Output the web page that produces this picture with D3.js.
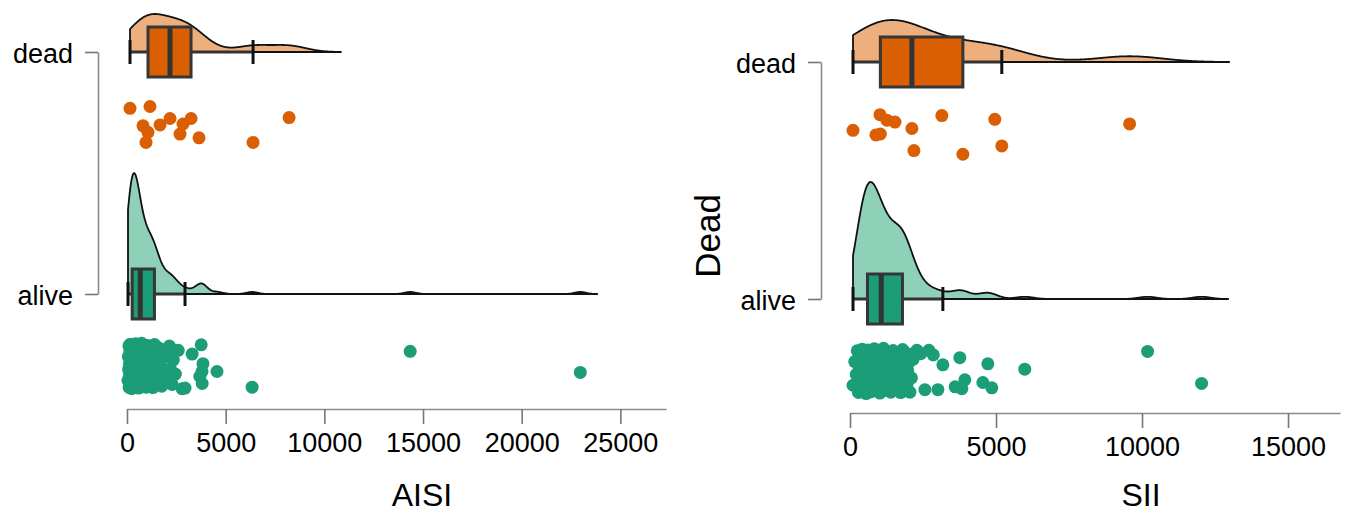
<!DOCTYPE html>
<html><head><meta charset="utf-8">
<script src="https://cdn.jsdelivr.net/npm/d3@7"></script>
<style>body{margin:0;background:#fff} svg{display:block} text{font-family:"Liberation Sans",Arial,sans-serif;fill:#000}</style>
</head><body><svg id="c" width="1347" height="515"></svg>
<script>
// ---------------- DATA ----------------
const groups = ["dead", "alive"];
const aisiTicks = [0, 5000, 10000, 15000, 20000, 25000];
const siiTicks = [0, 5000, 10000, 15000];

const aisiDead = [152, 1166, 811, 1065, 963, 1673, 2180, 2839, 3245, 2687, 3650, 6388, 8213];
const aisiDeadJitter = [-0.68, -0.76, 0.08, 0.36, 0.8, 0.04, -0.24, 0, -0.24, 0.44, 0.6, 0.8, -0.28];

const aisiAlive = [
  51, 68, 83, 97, 108, 121, 129, 141, 148, 157, 166, 171, 179, 187, 190, 199, 204, 207, 214, 217, 223, 227, 229, 235, 237, 242, 245, 246, 249, 251, 252, 253,
  261, 270, 287, 296, 312, 320, 337, 346, 362, 371, 386, 394, 410, 418, 433, 442, 458, 467, 481, 490, 507, 516, 533, 542, 558, 569, 584, 594, 611, 620, 637, 646, 659,
  683, 701, 727, 744, 771, 788, 815, 833, 861, 879, 906, 925, 953, 972, 1003, 1021, 1054, 1072, 1103, 1121, 1153, 1172, 1198, 1224, 1241, 1268, 1285, 1312, 1328, 1347, 1356, 1369,
  1398, 1427, 1452, 1497, 1533, 1562, 1618, 1647, 1693, 1758, 1843, 1917, 2004, 2080, 2148, 2203, 2238, 2285, 2346, 2452, 2597, 2789,
  2940, 3300, 3690, 3760, 3800, 3810, 3850, 4560, 6340, 14350, 22970
];
const aisiAliveTailJitter = [0.96, -0.52, 0.45, -0.92, 0.24, 0.76, -0.1, 0.24, 0.92, -0.64, 0.28];

const siiDead = [103, 1026, 1265, 1539, 889, 1040, 2120, 2189, 3146, 3865, 4959, 5198, 9576];
const siiDeadJitter = [-0.16, -0.84, -0.6, -0.52, 0.04, 0, -0.24, 0.72, -0.8, 0.88, -0.64, 0.52, -0.44];

const siiAlive = [
  103, 163, 214, 248, 287, 313, 342, 360, 384, 398, 417, 428, 446, 455, 471, 478, 492, 497, 510, 514, 526, 529, 540, 543, 553, 555, 564, 566, 573, 574, 579, 581,
  596, 608, 627, 638, 657, 668, 688, 700, 720, 731, 752, 764, 784, 796, 817, 830, 851, 864, 885, 898, 919, 932, 953, 966, 987, 998, 1014, 1022, 1036, 1041, 1052, 1055, 1060,
  1082, 1098, 1127, 1148, 1177, 1198, 1227, 1248, 1277, 1298, 1327, 1348, 1377, 1398, 1427, 1448, 1477, 1498, 1527, 1548, 1577, 1598, 1627, 1648, 1677, 1698, 1722, 1733, 1752, 1760, 1773, 1778,
  1803, 1818, 1832, 1862, 1888, 1907, 1923, 1951, 1978, 1997, 2012,
  2052, 2103, 2158, 2232, 2318, 2423, 2565, 2702, 2853, 3010, 3180, 2290, 3600, 3762, 3830, 3933, 4549, 4720, 4856, 5985, 10190, 12040
];
const siiAliveTailJitter = [0.92, 0.3, -0.5, -0.8, -0.85, -0.75, 0.81, -0.9, -0.7, 0.81, -0.27, -0.9, 0.69, -0.58, 0.77, 0.38, 0.5, -0.31, 0.73, -0.08, -0.85, 0.54];

const generalJitter = [
  0.62, -0.41, 0.15, -0.88, 0.93, -0.07, 0.34, -0.65, 0.78, -0.22,
  -0.95, 0.48, 0.05, -0.53, 0.71, -0.31, 0.87, -0.76, 0.22, -0.12,
  0.56, -0.84, 0.39, -0.46, 0.98, 0.11, -0.69, 0.27, -0.37, 0.83,
  -0.58, 0.02, 0.66, -0.91, 0.44, -0.18, 0.75, -0.27, 0.31, -0.79,
  0.9, -0.49, 0.18, -0.03, 0.59, -0.72, 0.37, -0.97, 0.08, 0.52,
  -0.35, 0.81, -0.6, 0.24, -0.86, 0.69, -0.15, 0.45, -0.43, 0.96,
  -0.24, 0.13, -0.81, 0.57, -0.09, 0.74, -0.67, 0.29, -0.99, 0.41,
  0.85, -0.33, 0.2, -0.74, 0.64, -0.04, 0.5, -0.56, 0.92, -0.2,
  0.07, -0.89, 0.36, -0.39, 0.77, -0.63, 0.16, -0.11, 0.67, -0.82,
  0.26, -0.47, 0.94, -0.29, 0.53, -0.7, 0.1, -0.93, 0.43, -0.16,
  0.72, -0.52, 0.33, -0.78, 0.6, -0.01, 0.88, -0.36, 0.19, -0.61,
  0.47, -0.87, 0.12, -0.45, 0.8, -0.26, 0.35, -0.68, 0.99, -0.06
];

// ---------------- STYLE ----------------
const colors = {
  dead: { point: "#D95F02", fill: "#EEAF7F" },
  alive: { point: "#1B9E77", fill: "#8FD0B8" }
};

const panels = [
  { title: "AISI", dead: aisiDead, deadJ: aisiDeadJitter, alive: aisiAlive, aliveTailJ: aisiAliveTailJitter,
    ticks: aisiTicks, xr: [127, 666], dmax: 27313, yr: [52, 294], axisY: 409, yAxisX: 98,
    titleX: 422, peak: { dead: 38, alive: 121 }, ytitle: null },
  { title: "SII", dead: siiDead, deadJ: siiDeadJitter, alive: siiAlive, aliveTailJ: siiAliveTailJitter,
    ticks: siiTicks, xr: [850, 1340], dmax: 16780, yr: [62, 299], axisY: 413, yAxisX: 821,
    titleX: 1141, peak: { dead: 42, alive: 117 }, ytitle: "Dead" }
];

const svg = d3.select("#c");

function kde(vals) {
  const s = vals.slice().sort(d3.ascending);
  const n = s.length;
  const sd = d3.deviation(s);
  const iqr = d3.quantile(s, 0.75) - d3.quantile(s, 0.25);
  const bw = 0.9 * Math.min(sd, iqr / 1.34) * Math.pow(n, -0.2);
  const lo = s[0], hi = s[n - 1] + 3 * bw;
  const N = 600;
  const out = [];
  for (let i = 0; i <= N; i++) {
    const x = lo + (hi - lo) * i / N;
    let d = 0;
    for (const v of s) { const u = (x - v) / bw; d += Math.exp(-0.5 * u * u); }
    out.push([x, d / (n * bw * Math.sqrt(2 * Math.PI))]);
  }
  return out;
}

panels.forEach(p => {
  const g = svg.append("g");
  const x = d3.scaleLinear().domain([0, p.dmax]).range(p.xr);
  const y = d3.scalePoint().domain(groups).range(p.yr);

  // x axis
  const xa = g.append("g").attr("transform", `translate(0,${p.axisY})`)
    .call(d3.axisBottom(x).tickValues(p.ticks).tickFormat(d3.format("d"))
      .tickSize(15).tickPadding(9).tickSizeOuter(0));
  xa.select(".domain").attr("stroke", "#8a8a8a").attr("stroke-width", 1.6);
  xa.selectAll(".tick line").attr("stroke", "#777").attr("stroke-width", 1.6);
  xa.selectAll(".tick text").attr("font-size", 27).attr("fill", "#000")
    .attr("font-family", '"Liberation Sans", Arial, sans-serif').attr("dy", "0.71em");

  // y axis
  const ya = g.append("g").attr("transform", `translate(${p.yAxisX},0)`)
    .call(d3.axisLeft(y).tickSize(13).tickPadding(12).tickSizeOuter(0));
  ya.select(".domain").attr("stroke", "#8a8a8a").attr("stroke-width", 1.6);
  ya.selectAll(".tick line").attr("stroke", "#777").attr("stroke-width", 1.6);
  ya.selectAll(".tick text").attr("font-size", 27).attr("fill", "#000")
    .attr("font-family", '"Liberation Sans", Arial, sans-serif').attr("dy", "0.4em");

  // titles
  g.append("text").attr("x", p.titleX).attr("y", 506).attr("text-anchor", "middle")
    .attr("font-size", 32).text(p.title);
  if (p.ytitle) {
    g.append("text").attr("transform", "translate(720,236) rotate(-90)")
      .attr("text-anchor", "middle").attr("font-size", 35).text(p.ytitle);
  }

  groups.forEach(gr => {
    const vals = p[gr];
    const base = y(gr);
    const c = colors[gr];
    const dens = kde(vals);
    const dmax = d3.max(dens, d => d[1]);
    const k = p.peak[gr] / dmax;
    const pts = [[dens[0][0], 0], ...dens, [dens[dens.length - 1][0], 0]];
    const line = d3.line().x(d => x(d[0])).y(d => base - d[1] * k);
    g.append("path").attr("d", line(pts) + "Z").attr("fill", c.fill)
      .attr("stroke", "#111").attr("stroke-width", 1.8).attr("stroke-linejoin", "round");

    // box
    const s = vals.slice().sort(d3.ascending);
    const q1 = d3.quantile(s, 0.25), med = d3.quantile(s, 0.5), q3 = d3.quantile(s, 0.75);
    const iqr = q3 - q1;
    const wmin = d3.min(s.filter(v => v >= q1 - 1.5 * iqr));
    const wmax = d3.max(s.filter(v => v <= q3 + 1.5 * iqr));
    const hb = 25, hc = 12;
    g.append("line").attr("x1", x(wmin)).attr("x2", x(q1)).attr("y1", base).attr("y2", base)
      .attr("stroke", "#333").attr("stroke-width", 3);
    g.append("line").attr("x1", x(q3)).attr("x2", x(wmax)).attr("y1", base).attr("y2", base)
      .attr("stroke", "#333").attr("stroke-width", 3);
    [wmin, wmax].forEach(v => g.append("line").attr("x1", x(v)).attr("x2", x(v))
      .attr("y1", base - hc).attr("y2", base + hc).attr("stroke", "#111").attr("stroke-width", 3));
    g.append("rect").attr("x", x(q1)).attr("y", base - hb).attr("width", x(q3) - x(q1)).attr("height", 2 * hb)
      .attr("fill", c.point).attr("stroke", "#363636").attr("stroke-width", 3);
    g.append("line").attr("x1", x(med)).attr("x2", x(med)).attr("y1", base - hb).attr("y2", base + hb)
      .attr("stroke", "#333").attr("stroke-width", 5);

    // points
    let jit;
    if (gr === "dead") jit = p.deadJ;
    else {
      const nGen = vals.length - p.aliveTailJ.length;
      jit = generalJitter.slice(0, nGen).concat(p.aliveTailJ);
    }
    g.append("g").selectAll("circle").data(vals).join("circle")
      .attr("cx", d => x(d)).attr("cy", (d, i) => base + 72 + (jit[i] || 0) * 23)
      .attr("r", 6.5).attr("fill", c.point);
  });
});
</script></body></html>
